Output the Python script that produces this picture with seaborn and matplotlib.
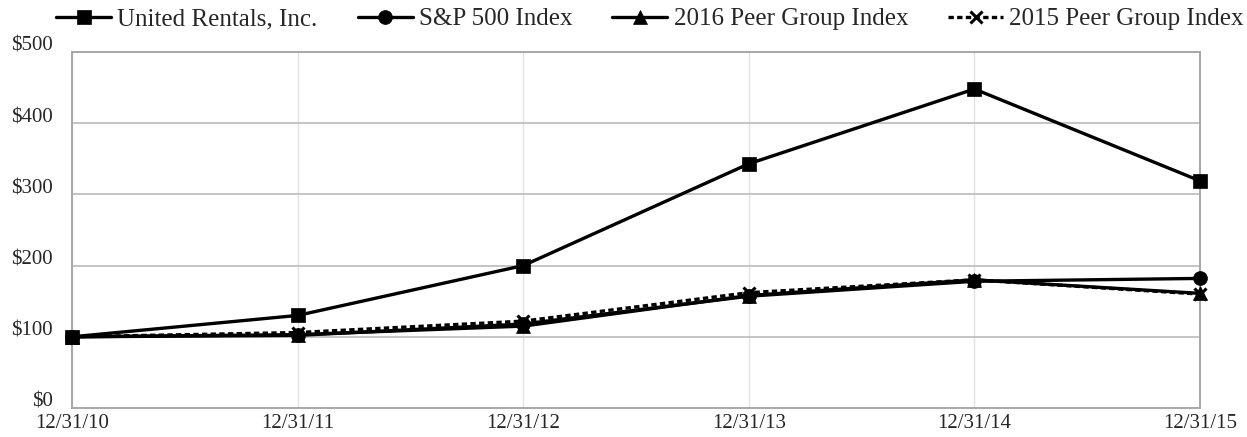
import pandas as pd
import matplotlib
matplotlib.use('Agg')
import matplotlib.pyplot as plt
import matplotlib.transforms as mtransforms
import seaborn as sns

# 데이터
dates = ['12/31/10', '12/31/11', '12/31/12', '12/31/13', '12/31/14', '12/31/15']
united_rentals = [100, 130, 200, 343, 448, 319]
sp500 = [100, 102, 118, 157, 178, 182]
peer_2016 = [100, 103, 115, 158, 180, 161]
peer_2015 = [100, 106, 122, 162, 180, 160]

series_names = ['United Rentals, Inc.', 'S&P 500 Index', '2016 Peer Group Index', '2015 Peer Group Index']
series_values = [united_rentals, sp500, peer_2016, peer_2015]
y_ticks = [0, 100, 200, 300, 400, 500]

sns.set_theme(style='white')
plt.rcParams['font.family'] = ['Liberation Serif', 'DejaVu Serif']

rows = []
for name, vals in zip(series_names, series_values):
    for i, (d, v) in enumerate(zip(dates, vals)):
        rows.append({'series': name, 'pos': i, 'date': d, 'value': v})
df = pd.DataFrame(rows)

fig = plt.figure(figsize=(12.47, 4.37), dpi=100)
ax = fig.add_axes([72 / 1247, 29 / 437, 1128 / 1247, 356 / 437])

styles = {
    'United Rentals, Inc.': dict(marker='s', ms=10.5, ls='-', zorder=5),
    'S&P 500 Index': dict(marker='o', ms=10, ls='-', zorder=4),
    '2016 Peer Group Index': dict(marker='^', ms=10, ls='-', zorder=3),
    '2015 Peer Group Index': dict(marker='x', ms=9, ls=(0, (1.6, 1.0)), zorder=2),
}

# 그리는 순서: 아래 계열부터
for name in series_names[::-1]:
    st = styles[name]
    sub = df[df['series'] == name]
    sns.lineplot(data=sub, x='pos', y='value', ax=ax, color='black',
                 linewidth=2.4, linestyle=st['ls'], marker=st['marker'],
                 markersize=st['ms'], markeredgecolor='black',
                 markeredgewidth=2.2 if st['marker'] == 'x' else 0.5,
                 label=name, zorder=st['zorder'], clip_on=False)

ax.set_xlim(0, len(dates) - 1)
ax.set_ylim(0, 500)
ax.set_xticks(range(len(dates)))
ax.set_xticklabels(dates)
ax.set_yticks(y_ticks)
ax.set_yticklabels([f'${v}' for v in y_ticks])
ax.set_xlabel('')
ax.set_ylabel('')
ax.tick_params(axis='both', labelsize=15, length=0)
ax.tick_params(axis='y', pad=14)
ax.tick_params(axis='x', pad=4)

# y 눈금 라벨을 격자선보다 약간 위로
shift = mtransforms.ScaledTranslation(0, 8 / 100, fig.dpi_scale_trans)
for lbl in ax.get_yticklabels():
    lbl.set_transform(lbl.get_transform() + shift)

ax.yaxis.grid(True, color='#c4c4c4', linewidth=1.4)
ax.xaxis.grid(True, color='#e2e2e2', linewidth=1.0)
for s in ax.spines.values():
    s.set_color('#a8a8a8')
    s.set_linewidth(1.4)

handles, labels = ax.get_legend_handles_labels()
ax.get_legend().remove()
order = [labels.index(n) for n in series_names]
fig.legend([handles[i] for i in order], [labels[i] for i in order],
           loc='center left', bbox_to_anchor=(56 / 1247, 1 - 19 / 437), ncol=4, frameon=False,
           fontsize=18, handlelength=2.2, handletextpad=0.25, columnspacing=1.6,
           borderpad=0, borderaxespad=0)

fig.savefig('out.png', dpi=100)
